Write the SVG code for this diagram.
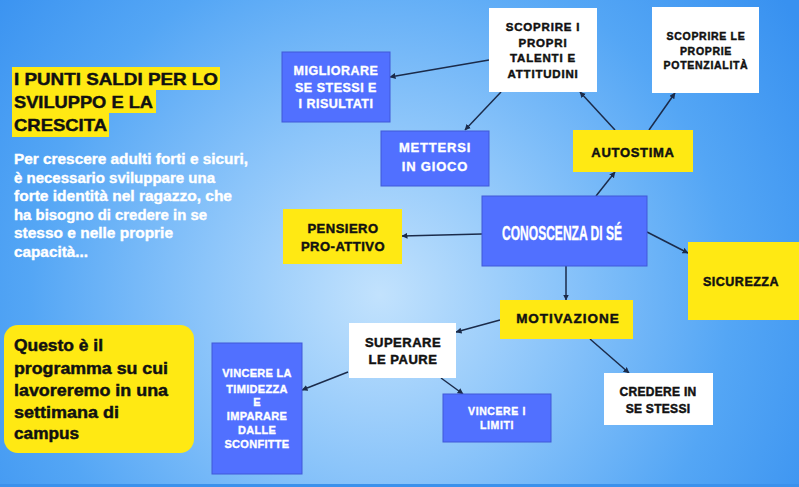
<svg xmlns="http://www.w3.org/2000/svg" width="799" height="487" viewBox="0 0 799 487">
<defs>
<radialGradient id="bg" gradientUnits="userSpaceOnUse" cx="380" cy="295" r="500">
<stop offset="0" stop-color="#c2e2fd"/>
<stop offset="0.35" stop-color="#8cc5fa"/>
<stop offset="0.7" stop-color="#54a6f5"/>
<stop offset="1" stop-color="#3891f0"/>
</radialGradient>
<marker id="arr" markerUnits="userSpaceOnUse" markerWidth="7" markerHeight="7" refX="5.5" refY="3" orient="auto">
<path d="M0,0 L6,3 L0,6 z" fill="#1b2b4a"/>
</marker>
</defs>
<style>
text{font-family:"Liberation Sans",Arial,sans-serif;font-weight:bold}
.lbl{text-anchor:middle}
.dk{fill:#111;stroke:#111;stroke-width:0.45}
.wt{fill:#fff;stroke:#fff;stroke-width:0.35}
.blue{fill:#5170ff;stroke:#4059d8;stroke-width:1}
.yel{fill:#ffe913}
.wh{fill:#fff}
.con line{stroke:#1b2b4a;stroke-width:1.5;marker-end:url(#arr)}
</style>
<rect x="0" y="0" width="799" height="487" fill="url(#bg)"/>
<rect x="0" y="484" width="799" height="3" fill="#3b91ec"/>

<g id="title">
<rect x="12" y="67" width="208" height="23" class="yel"/>
<rect x="12" y="90" width="144" height="23" class="yel"/>
<rect x="12" y="113" width="97" height="24" class="yel"/>
<text x="14" y="85" font-size="17" class="dk" textLength="204" lengthAdjust="spacingAndGlyphs">I PUNTI SALDI PER LO</text>
<text x="14" y="108" font-size="17" class="dk" textLength="139" lengthAdjust="spacingAndGlyphs">SVILUPPO E LA</text>
<text x="14" y="131" font-size="17" class="dk" textLength="93" lengthAdjust="spacingAndGlyphs">CRESCITA</text>
</g>

<g id="intro" font-size="14">
<text class="wt" x="14" y="164" textLength="234" lengthAdjust="spacingAndGlyphs">Per crescere adulti forti e sicuri,</text>
<text class="wt" x="14" y="182.5" textLength="201" lengthAdjust="spacingAndGlyphs">è necessario sviluppare una</text>
<text class="wt" x="14" y="201" textLength="218" lengthAdjust="spacingAndGlyphs">forte identità nel ragazzo, che</text>
<text class="wt" x="14" y="219.5" textLength="193" lengthAdjust="spacingAndGlyphs">ha bisogno di credere in se</text>
<text class="wt" x="14" y="238" textLength="159" lengthAdjust="spacingAndGlyphs">stesso e nelle proprie</text>
<text class="wt" x="14" y="256.5" textLength="74" lengthAdjust="spacingAndGlyphs">capacità...</text>
</g>

<g id="programma">
<rect x="4" y="325" width="190" height="128" rx="14" class="yel"/>
<text x="14" y="351" font-size="16" class="dk" textLength="89" lengthAdjust="spacingAndGlyphs">Questo è il</text>
<text x="14" y="374" font-size="16" class="dk" textLength="154" lengthAdjust="spacingAndGlyphs">programma su cui</text>
<text x="14" y="396" font-size="16" class="dk" textLength="154" lengthAdjust="spacingAndGlyphs">lavoreremo in una</text>
<text x="14" y="418" font-size="16" class="dk" textLength="105" lengthAdjust="spacingAndGlyphs">settimana di</text>
<text x="14" y="439" font-size="16" class="dk" textLength="65" lengthAdjust="spacingAndGlyphs">campus</text>
</g>

<g class="con" id="connectors">
<line x1="489" y1="60" x2="390" y2="77"/>
<line x1="501" y1="92" x2="465" y2="130"/>
<line x1="615" y1="130" x2="580" y2="92"/>
<line x1="649" y1="130" x2="675" y2="93"/>
<line x1="596" y1="196" x2="615" y2="172"/>
<line x1="482" y1="234" x2="402" y2="236"/>
<line x1="647" y1="232" x2="688" y2="253"/>
<line x1="566" y1="266" x2="566" y2="300"/>
<line x1="500" y1="320" x2="456" y2="332"/>
<line x1="590" y1="339" x2="629" y2="373"/>
<line x1="348" y1="372" x2="302" y2="390"/>
<line x1="441" y1="378" x2="463" y2="394"/>
</g>

<g id="migliorare">
<rect x="282" y="52" width="108" height="70" class="blue"/>
<text class="lbl wt" x="336" y="74.5" font-size="12.5" letter-spacing="0.5">MIGLIORARE</text>
<text class="lbl wt" x="336" y="91.5" font-size="12.5" letter-spacing="0.5">SE STESSI E</text>
<text class="lbl wt" x="336" y="107.5" font-size="12.5" letter-spacing="0.5">I RISULTATI</text>
</g>

<g id="talenti">
<rect x="489" y="8" width="108" height="84" class="wh"/>
<text class="lbl dk" x="543" y="31" font-size="11.5" letter-spacing="0.8">SCOPRIRE I</text>
<text class="lbl dk" x="543" y="46.5" font-size="11.5" letter-spacing="0.8">PROPRI</text>
<text class="lbl dk" x="543" y="62" font-size="11.5" letter-spacing="0.8">TALENTI E</text>
<text class="lbl dk" x="543" y="78" font-size="11.5" letter-spacing="0.8">ATTITUDINI</text>
</g>

<g id="potenzialita">
<rect x="652" y="7" width="107" height="86" class="wh"/>
<text class="lbl dk" x="706" y="40" font-size="10.5" letter-spacing="0.7">SCOPRIRE LE</text>
<text class="lbl dk" x="706" y="55" font-size="10.5" letter-spacing="0.7">PROPRIE</text>
<text class="lbl dk" x="706" y="69" font-size="10.5" letter-spacing="0.7">POTENZIALITÀ</text>
</g>

<g id="mettersi">
<rect x="381" y="131" width="108" height="55" class="blue"/>
<text class="lbl wt" x="435" y="152" font-size="13" letter-spacing="0.8">METTERSI</text>
<text class="lbl wt" x="435" y="171" font-size="13" letter-spacing="0.8">IN GIOCO</text>
</g>

<g id="autostima">
<rect x="573" y="130" width="120" height="42" class="yel"/>
<text class="lbl dk" x="633" y="157" font-size="13" letter-spacing="0.7">AUTOSTIMA</text>
</g>

<g id="conoscenza">
<rect x="482" y="196" width="165" height="70" class="blue"/>
<text class="lbl wt" x="562" y="239.5" font-size="20" textLength="120" lengthAdjust="spacingAndGlyphs">CONOSCENZA DI SÉ</text>
</g>

<g id="pensiero">
<rect x="283" y="209" width="119" height="55" class="yel"/>
<text class="lbl dk" x="343" y="232.5" font-size="13" letter-spacing="0.5">PENSIERO</text>
<text class="lbl dk" x="343" y="250.5" font-size="13" letter-spacing="0.5">PRO-ATTIVO</text>
</g>

<g id="sicurezza">
<rect x="688" y="242" width="111" height="78" class="yel"/>
<text class="lbl dk" x="741" y="285.5" font-size="12.5" letter-spacing="0.5">SICUREZZA</text>
</g>

<g id="motivazione">
<rect x="500" y="300" width="133" height="39" class="yel"/>
<text class="lbl dk" x="568" y="323" font-size="13.5" letter-spacing="1">MOTIVAZIONE</text>
</g>

<g id="superare">
<rect x="349" y="323" width="107" height="55" class="wh"/>
<text class="lbl dk" x="403" y="346.5" font-size="13" letter-spacing="0.5">SUPERARE</text>
<text class="lbl dk" x="403" y="364" font-size="13" letter-spacing="0.5">LE PAURE</text>
</g>

<g id="timidezza">
<rect x="212" y="343" width="90" height="131" class="blue"/>
<text class="lbl wt" x="257" y="377" font-size="11" letter-spacing="0.3">VINCERE LA</text>
<text class="lbl wt" x="257" y="392.5" font-size="11" letter-spacing="0.3">TIMIDEZZA</text>
<text class="lbl wt" x="257" y="406" font-size="11" letter-spacing="0.3">E</text>
<text class="lbl wt" x="257" y="420" font-size="11" letter-spacing="0.3">IMPARARE</text>
<text class="lbl wt" x="257" y="434" font-size="11" letter-spacing="0.3">DALLE</text>
<text class="lbl wt" x="257" y="448" font-size="11" letter-spacing="0.3">SCONFITTE</text>
</g>

<g id="limiti">
<rect x="443" y="394" width="108" height="48" class="blue"/>
<text class="lbl wt" x="497" y="414.5" font-size="10.5" letter-spacing="0.6">VINCERE I</text>
<text class="lbl wt" x="497" y="428.5" font-size="10.5" letter-spacing="0.6">LIMITI</text>
</g>

<g id="credere">
<rect x="604" y="373" width="109" height="52" class="wh"/>
<text class="lbl dk" x="658" y="395.5" font-size="12" letter-spacing="0.3">CREDERE IN</text>
<text class="lbl dk" x="658" y="412.5" font-size="12" letter-spacing="0.3">SE STESSI</text>
</g>
</svg>
